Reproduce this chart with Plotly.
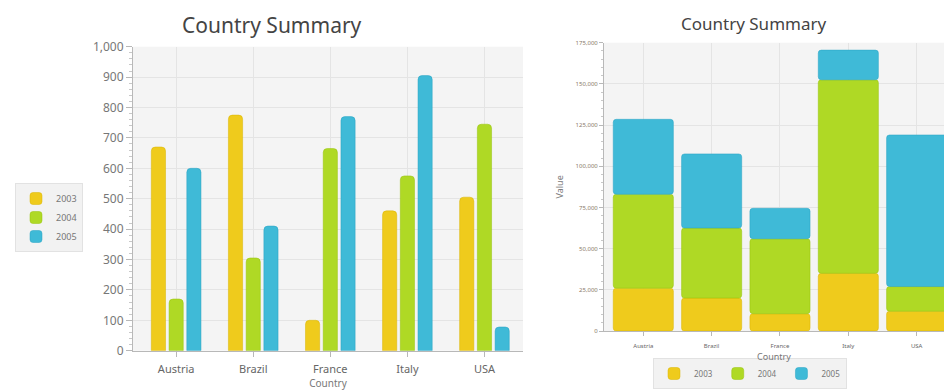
import plotly.graph_objects as go

# ---- data ----
countries = ["Austria", "Brazil", "France", "Italy", "USA"]
years = ["2003", "2004", "2005"]

# left chart (grouped)
grp_2003 = [670, 775, 100, 460, 505]
grp_2004 = [170, 305, 665, 575, 745]
grp_2005 = [600, 410, 770, 905, 78]

# right chart (stacked)
stk_2003 = [26000, 20000, 10500, 35000, 12000]
stk_2004 = [57000, 42500, 45500, 117500, 15000]
stk_2005 = [45500, 45000, 18500, 18000, 92000]

colors = ["#efcb1c", "#afd925", "#3fbad7"]
edge = ["#d9b400", "#97c20a", "#28a3c2"]

W, H = 944, 390
def px_x(a, b):
    return [a / W, b / W]
def px_y(top, bottom):
    return [1 - bottom / H, 1 - top / H]

fig = go.Figure()

for i, (yr, vals) in enumerate(zip(years, [grp_2003, grp_2004, grp_2005])):
    fig.add_trace(go.Bar(
        x=countries, y=vals, name=yr, xaxis="x", yaxis="y",
        marker=dict(color=colors[i], line=dict(color=edge[i], width=0.5), cornerradius=4),
        legend="legend",
    ))

stacks = [stk_2003, stk_2004, stk_2005]
base = [0] * len(countries)
for i, (yr, vals) in enumerate(zip(years, stacks)):
    fig.add_trace(go.Bar(
        x=countries, y=vals, base=list(base), name=yr, xaxis="x2", yaxis="y2",
        offsetgroup="stack", width=0.88,
        marker=dict(color=colors[i], line=dict(color=edge[i], width=0.5), cornerradius=3),
        legend="legend2",
    ))
    base = [b + v for b, v in zip(base, vals)]

axis_common = dict(showline=True, linecolor="#b8b8b8", linewidth=1, zeroline=False,
                   gridcolor="#e4e4e4", gridwidth=1)

fig.update_layout(
    width=W, height=H,
    margin=dict(l=0, r=0, t=0, b=0, autoexpand=False),
    paper_bgcolor="white",
    plot_bgcolor="#f4f4f4",
    font=dict(family="Noto Sans, Open Sans, sans-serif", color="#666"),
    barmode="group",
    bargap=0.31,
    bargroupgap=0.2,
    xaxis=dict(domain=px_x(133, 523), anchor="y", range=[-0.56, 4.5],
               ticks="outside", ticklen=5, tickcolor="#b8b8b8", ticklabelstandoff=3,
               tickfont=dict(size=11, color="#666"),
               title=dict(text="Country", font=dict(size=10, color="#777"), standoff=6),
               showgrid=True, **axis_common),
    yaxis=dict(domain=px_y(46.7, 350.7), anchor="x", range=[0, 1000], dtick=100,
               tickformat=",d", ticks="outside", ticklen=6, tickcolor="#b8b8b8",
               tickfont=dict(size=12, color="#777"),
               minor=dict(dtick=20, ticks="outside", ticklen=3, tickcolor="#c8c8c8", showgrid=False),
               showgrid=True, **axis_common),
    xaxis2=dict(domain=px_x(604, 944), anchor="y2", range=[-0.575, 4.4],
                ticks="outside", ticklen=4, tickcolor="#b8b8b8", ticklabelstandoff=5,
                tickfont=dict(size=6, color="#666"),
                title=dict(text="Country", font=dict(size=9, color="#777"), standoff=4),
                showgrid=True, **axis_common),
    yaxis2=dict(domain=px_y(42.7, 331), anchor="x2", range=[0, 175000], dtick=25000,
                tickformat=",d", ticks="outside", ticklen=4, tickcolor="#b8b8b8",
                tickfont=dict(size=6, color="#8a7a6a"),
                title=dict(text="Value", font=dict(size=9, color="#777"), standoff=10),
                minor=dict(dtick=5000, ticks="outside", ticklen=2, tickcolor="#c8c8c8", showgrid=False),
                showgrid=True, **axis_common),
    legend=dict(x=15 / W, y=1 - 183 / H, xanchor="left", yanchor="top",
                orientation="v", bgcolor="#f2f2f2", bordercolor="#e2e2e2", borderwidth=1,
                font=dict(size=9, color="#777"), itemwidth=30, tracegroupgap=2),
    legend2=dict(x=750 / W, y=1 - 389 / H, xanchor="center", yanchor="bottom",
                 orientation="h", bgcolor="#f2f2f2", bordercolor="#e2e2e2", borderwidth=1,
                 font=dict(size=8, color="#777"), itemwidth=30),
    annotations=[
        dict(text="Country Summary", x=272 / W, y=1 - 25 / H, xref="paper", yref="paper",
             xanchor="center", yanchor="middle",
             showarrow=False, font=dict(size=21, color="#444")),
        dict(text="Country Summary", x=753 / W, y=1 - 23 / H, xref="paper", yref="paper",
             xanchor="center", yanchor="middle",
             showarrow=False, font=dict(size=17, color="#444")),
    ],
)

fig.write_html("out.html")
